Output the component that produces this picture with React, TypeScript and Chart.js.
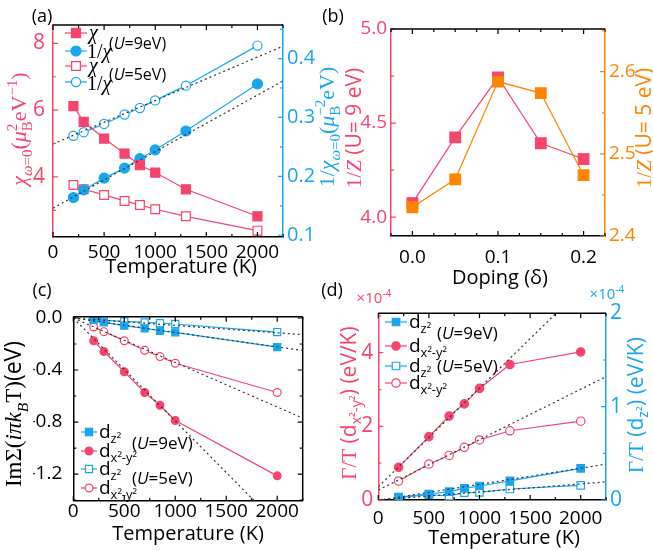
import React, { useEffect, useRef } from 'react';
import { Chart, registerables } from 'chart.js';
Chart.register(...registerables);

const W = 653, H = 550;
const RED = '#F5456E';
const BLUE = '#1AA6EE';
const ORANGE = '#FF8400';
const SANS = "'Open Sans', 'Noto Sans', sans-serif";
const SERIF = "'Liberation Serif', 'DejaVu Serif', serif";

// ---------- Panel (a) ----------
const tempA = [200, 300, 500, 700, 850, 1000, 1300, 2000];
const chiU9 = [6.12, 5.65, 5.15, 4.7, 4.35, 4.13, 3.63, 2.82];
const invChiU9 = [0.164, 0.177, 0.197, 0.214, 0.23, 0.245, 0.277, 0.357];
const chiU5 = [3.76, 3.63, 3.46, 3.28, 3.16, 3.03, 2.82, 2.39];
const invChiU5 = [0.269, 0.275, 0.289, 0.305, 0.316, 0.329, 0.354, 0.422];
const fitInvChiU9 = [[0, 0.146], [2250, 0.362]];
const fitInvChiU5 = [[0, 0.255], [2250, 0.421]];

// ---------- Panel (b) ----------
const doping = [0, 0.05, 0.1, 0.15, 0.2];
const invZU9 = [4.075, 4.424, 4.743, 4.393, 4.309];
const invZU5 = [2.435, 2.469, 2.588, 2.574, 2.474];

// ---------- Panel (c) ----------
const tempC = [200, 300, 500, 700, 850, 1000, 2000];
const sigZU9 = [-0.015, -0.033, -0.059, -0.08, -0.098, -0.11, -0.224];
const sigXU9 = [-0.175, -0.258, -0.413, -0.573, -0.671, -0.788, -1.214];
const sigZU5 = [-0.01, -0.018, -0.026, -0.034, -0.04, -0.046, -0.108];
const sigXU5 = [-0.069, -0.105, -0.175, -0.248, -0.297, -0.348, -0.573];
const fitSigXU9 = [[0, 0], [2250, -1.782]];
const fitSigXU5 = [[0, 0], [2250, -0.77]];
const fitSigZU9 = [[0, 0], [2250, -0.25]];
const fitSigZU5 = [[0, 0], [2250, -0.128]];

// ---------- Panel (d) ----------
const tempD = [200, 500, 700, 850, 1000, 1300, 2000];
const gamXU9 = [0.887, 1.72, 2.28, 2.61, 3.03, 3.68, 4.02];
const gamXU5 = [0.516, 0.977, 1.21, 1.43, 1.63, 1.88, 2.14];
const gamZU9 = [0.032, 0.064, 0.089, 0.125, 0.15, 0.204, 0.339];
const gamZU5 = [0.025, 0.057, 0.043, 0.079, 0.082, 0.118, 0.157];
const fitGamXU9 = [[0, 0.36], [2250, 6.39]];
const fitGamXU5 = [[0, 0.27], [2250, 3.35]];
const fitGamZU9 = [[0, -0.005], [2250, 0.384]];
const fitGamZU5 = [[0, 0], [2250, 0.194]];

// ---------- helpers ----------
type Seg = { t: string; f?: string; it?: boolean; s?: number; dy?: number; adv?: boolean };
const SUB = { s: 0.68, dy: 0.28 };
const SUP = { s: 0.68, dy: -0.42 };

function rich(ctx: CanvasRenderingContext2D, segs: Seg[], x: number, y: number, size: number, color: string, align: 'center' | 'left' = 'center', rot = 0) {
  ctx.save();
  ctx.translate(x, y);
  if (rot) ctx.rotate(rot);
  ctx.textBaseline = 'alphabetic';
  ctx.textAlign = 'left';
  const items = segs.map((g) => {
    const sz = size * (g.s ?? 1);
    const font = `${g.it ? 'italic ' : ''}${sz}px ${g.f ?? SANS}`;
    ctx.font = font;
    return { g, font, w: ctx.measureText(g.t).width };
  });
  const total = items.reduce((a, it) => a + (it.g.adv === false ? 0 : it.w), 0);
  let cx = align === 'center' ? -total / 2 : 0;
  const base = size * 0.36;
  ctx.fillStyle = color;
  for (const it of items) {
    ctx.font = it.font;
    ctx.fillText(it.g.t, cx, base + (it.g.dy ?? 0) * size);
    if (it.g.adv !== false) cx += it.w;
  }
  ctx.restore();
}

function axis(pos: string, min: number, max: number, step: number, major: number, digits: number, color: string, size: number, pad: number, fs: number) {
  return {
    type: 'linear', position: pos, min, max,
    grid: { display: false, drawTicks: false },
    border: { display: true, color, width: 1.5 },
    ticks: {
      stepSize: step, includeBounds: false, autoSkip: false, maxRotation: 0, minRotation: 0,
      color, padding: pad, font: { family: SANS, size: fs },
      callback: (v: any) => {
        const n = Number(v);
        const k = Math.round(n / major);
        return Math.abs(n - k * major) < step * 1e-3 ? (k * major).toFixed(digits) : '';
      },
    },
    afterFit: (s: any) => {
      if (pos === 'bottom' || pos === 'top') s.height = size; else s.width = size;
      s.paddingLeft = 0; s.paddingRight = 0; s.paddingTop = 0; s.paddingBottom = 0;
    },
  };
}

const pts = (xs: number[], ys: number[]) => xs.map((x, i) => ({ x, y: ys[i] }));
const seg = (pairs: number[][]) => pairs.map(([x, y]) => ({ x, y }));

function ser(data: any[], yAxisID: string, color: string, style: string, filled: boolean, r: number, order = 2) {
  return {
    data, yAxisID, showLine: true, borderColor: color, borderWidth: 1.2,
    backgroundColor: filled ? color : '#fff', pointBackgroundColor: filled ? color : '#fff',
    pointBorderColor: color, pointBorderWidth: 1.2, pointStyle: style, pointRadius: r, pointHoverRadius: r, order,
  };
}
function fitDs(data: any[], yAxisID: string) {
  return { data, yAxisID, showLine: true, borderColor: '#333', borderWidth: 1.2, borderDash: [2, 3], pointRadius: 0, pointHoverRadius: 0, order: 1 };
}

function innerTicks(chart: any, id: string, side: string, color: string) {
  const s = chart.scales[id]; const a = chart.chartArea; const ctx = chart.ctx;
  ctx.save(); ctx.strokeStyle = color; ctx.lineWidth = 1.2; ctx.beginPath();
  for (const t of s.ticks) {
    const p = s.getPixelForValue(t.value);
    const len = t.label ? 5 : 3;
    if (side === 'bottom') { ctx.moveTo(p, a.bottom); ctx.lineTo(p, a.bottom - len); }
    if (side === 'top') { ctx.moveTo(p, a.top); ctx.lineTo(p, a.top + len); }
    if (side === 'left') { ctx.moveTo(a.left, p); ctx.lineTo(a.left + len, p); }
    if (side === 'right') { ctx.moveTo(a.right, p); ctx.lineTo(a.right - len, p); }
  }
  ctx.stroke(); ctx.restore();
}
function edge(chart: any, side: string, color: string) {
  const a = chart.chartArea; const ctx = chart.ctx;
  ctx.save(); ctx.strokeStyle = color; ctx.lineWidth = 1.5; ctx.beginPath();
  if (side === 'top') { ctx.moveTo(a.left, a.top); ctx.lineTo(a.right, a.top); }
  if (side === 'right') { ctx.moveTo(a.right, a.top); ctx.lineTo(a.right, a.bottom); }
  ctx.stroke(); ctx.restore();
}
function marker(ctx: CanvasRenderingContext2D, x: number, y: number, style: string, color: string, filled: boolean, r: number, len: number) {
  ctx.save();
  ctx.strokeStyle = color; ctx.lineWidth = 1.2;
  ctx.beginPath(); ctx.moveTo(x - len / 2, y); ctx.lineTo(x + len / 2, y); ctx.stroke();
  ctx.fillStyle = filled ? color : '#fff';
  ctx.beginPath();
  if (style === 'rect') { const s = r * Math.SQRT1_2; ctx.rect(x - s, y - s, 2 * s, 2 * s); }
  else ctx.arc(x, y, r, 0, Math.PI * 2);
  ctx.fill(); ctx.stroke();
  ctx.restore();
}
function label(ctx: CanvasRenderingContext2D, t: string, x: number, y: number, size: number, color = '#000') {
  rich(ctx, [{ t }], x, y, size, color, 'center');
}

function cfg(datasets: any[], scales: any, padding: any, deco: (c: any) => void) {
  return {
    type: 'scatter',
    data: { datasets },
    options: {
      responsive: false, animation: false, devicePixelRatio: 1, events: [],
      layout: { padding },
      plugins: { legend: { display: false }, tooltip: { enabled: false } },
      scales,
    },
    plugins: [{ id: 'deco', afterDraw: deco }],
  } as any;
}

const UT = (n: string): Seg[] => [{ t: '(' }, { t: 'U', it: true }, { t: `=${n}eV)` }];
const ROT = -Math.PI / 2;

// ---------- chart configs ----------
function panelA() {
  return cfg(
    [
      fitDs(seg(fitInvChiU9), 'y2'),
      fitDs(seg(fitInvChiU5), 'y2'),
      ser(pts(tempA, chiU9), 'y', RED, 'rect', true, 6.4),
      ser(pts(tempA, invChiU9), 'y2', BLUE, 'circle', true, 5),
      ser(pts(tempA, chiU5), 'y', RED, 'rect', false, 6.2),
      ser(pts(tempA, invChiU5), 'y2', BLUE, 'circle', false, 4.6),
    ],
    {
      x: axis('bottom', 0, 2250, 250, 500, 0, '#000', 30, 4, 19),
      y: axis('left', 2.2, 8.55, 1, 2, 0, RED, 40, 8, 21),
      y2: axis('right', 0.097, 0.457, 0.05, 0.1, 1, BLUE, 40, 4, 20),
    },
    { left: 13, top: 25, right: W - 283 - 40, bottom: H - 237 - 30 },
    (chart) => {
      const ctx = chart.ctx;
      innerTicks(chart, 'x', 'bottom', '#000'); innerTicks(chart, 'x', 'top', '#000');
      innerTicks(chart, 'y', 'left', RED); innerTicks(chart, 'y2', 'right', BLUE);
      edge(chart, 'top', '#000');
      label(ctx, '(a)', 42, 16, 18);
      label(ctx, 'Temperature (K)', 181, 266, 20);
      rich(ctx, [
        { t: 'χ', f: SERIF, it: true }, { t: 'ω', f: SERIF, it: true, ...SUB }, { t: '=0', f: SERIF, ...SUB },
        { t: '(', f: SERIF }, { t: 'μ', f: SERIF, it: true }, { t: '2', f: SERIF, ...SUP, adv: false }, { t: 'B', f: SERIF, ...SUB },
        { t: 'eV', f: SERIF }, { t: '−1', f: SERIF, ...SUP }, { t: ')', f: SERIF },
      ], 18, 129, 22, RED, 'center', ROT);
      rich(ctx, [
        { t: '1/', f: SERIF }, { t: 'χ', f: SERIF, it: true }, { t: 'ω', f: SERIF, it: true, ...SUB }, { t: '=0', f: SERIF, ...SUB },
        { t: '(', f: SERIF }, { t: 'μ', f: SERIF, it: true }, { t: 'B', f: SERIF, ...SUB, adv: false }, { t: '−2', f: SERIF, ...SUP },
        { t: 'eV', f: SERIF }, { t: ')', f: SERIF },
      ], 326, 127, 22, BLUE, 'center', ROT);
      // legend
      marker(ctx, 76, 33, 'rect', RED, true, 6.4, 22);
      marker(ctx, 76, 51, 'circle', BLUE, true, 5, 22);
      marker(ctx, 76, 66, 'rect', RED, false, 6.2, 22);
      marker(ctx, 76, 82, 'circle', BLUE, false, 4.6, 22);
      rich(ctx, [{ t: 'χ', f: SERIF, it: true }], 89, 32, 20, '#000', 'left');
      rich(ctx, [{ t: '1/', f: SERIF }, { t: 'χ', f: SERIF, it: true }], 87, 51, 20, '#000', 'left');
      rich(ctx, UT('9'), 109, 43, 16, '#000', 'left');
      rich(ctx, [{ t: 'χ', f: SERIF, it: true }], 89, 65, 20, '#000', 'left');
      rich(ctx, [{ t: '1/', f: SERIF }, { t: 'χ', f: SERIF, it: true }], 87, 83, 20, '#000', 'left');
      rich(ctx, UT('5'), 109, 74, 16, '#000', 'left');
    },
  );
}

function panelB() {
  return cfg(
    [
      ser(pts(doping, invZU5), 'y2', ORANGE, 'rect', true, 7.5, 1),
      ser(pts(doping, invZU9), 'y', RED, 'rect', true, 7.5, 2),
    ],
    {
      x: axis('bottom', -0.025, 0.225, 0.025, 0.1, 1, '#000', 30, 10, 19),
      y: axis('left', 3.9, 5.0, 0.25, 0.5, 1, RED, 40, 4, 19),
      y2: axis('right', 2.4, 2.652, 0.05, 0.1, 1, ORANGE, 45, 4, 19),
    },
    { left: 391 - 40, top: 29, right: W - 605 - 45, bottom: H - 236 - 30 },
    (chart) => {
      const ctx = chart.ctx;
      innerTicks(chart, 'x', 'bottom', '#000'); innerTicks(chart, 'x', 'top', '#000');
      innerTicks(chart, 'y', 'left', RED); innerTicks(chart, 'y2', 'right', ORANGE);
      edge(chart, 'top', '#000');
      label(ctx, '(b)', 333, 16, 18);
      rich(ctx, [{ t: 'Doping (δ)' }], 500, 277, 20, '#000');
      rich(ctx, [{ t: '1/', f: SERIF }, { t: 'Z', f: SERIF, it: true }, { t: ' (U= 9 eV)' }], 353, 128, 21, RED, 'center', ROT);
      rich(ctx, [{ t: '1/', f: SERIF }, { t: 'Z', f: SERIF, it: true }, { t: ' (U= 5 eV)' }], 643, 128, 21, ORANGE, 'center', ROT);
    },
  );
}

function panelC() {
  return cfg(
    [
      fitDs(seg(fitSigXU9), 'y'), fitDs(seg(fitSigXU5), 'y'), fitDs(seg(fitSigZU9), 'y'), fitDs(seg(fitSigZU5), 'y'),
      ser(pts(tempC, sigZU9), 'y', BLUE, 'rect', true, 5),
      ser(pts(tempC, sigXU9), 'y', RED, 'circle', true, 3.9),
      ser(pts(tempC, sigZU5), 'y', BLUE, 'rect', false, 5),
      ser(pts(tempC, sigXU5), 'y', RED, 'circle', false, 3.9),
    ],
    {
      x: axis('bottom', 0, 2250, 250, 500, 0, '#000', 30, -1, 19),
      y: axis('left', -1.405, 0.01, 0.2, 0.4, 1, '#000', 40, 11, 19),
    },
    { left: 73.3 - 40, top: 316.7, right: W - 302.7, bottom: H - 500.7 - 30 },
    (chart) => {
      const ctx = chart.ctx;
      innerTicks(chart, 'x', 'bottom', '#000'); innerTicks(chart, 'x', 'top', '#000');
      innerTicks(chart, 'y', 'left', '#000'); innerTicks(chart, 'y', 'right', '#000');
      edge(chart, 'top', '#000'); edge(chart, 'right', '#000');
      label(ctx, '(c)', 42, 290, 18);
      label(ctx, 'Temperature (K)', 188, 533, 20);
      rich(ctx, [
        { t: 'ImΣ(', f: SERIF }, { t: 'iπk', f: SERIF, it: true }, { t: 'B', f: SERIF, it: true, ...SUB },
        { t: 'T)', f: SERIF }, { t: '(eV)' },
      ], 13, 414, 23, '#000', 'center', ROT);
      marker(ctx, 89, 432, 'rect', BLUE, true, 5, 16);
      marker(ctx, 89, 451, 'circle', RED, true, 3.9, 16);
      marker(ctx, 89, 469, 'rect', BLUE, false, 5, 16);
      marker(ctx, 89, 488, 'circle', RED, false, 3.9, 16);
      rich(ctx, [{ t: 'd' }, { t: 'z²', ...SUB }], 99, 431, 19, '#000', 'left');
      rich(ctx, [{ t: 'd' }, { t: 'x²-y²', ...SUB }], 99, 450, 19, '#000', 'left');
      rich(ctx, [{ t: 'd' }, { t: 'z²', ...SUB }], 99, 468, 19, '#000', 'left');
      rich(ctx, [{ t: 'd' }, { t: 'x²-y²', ...SUB }], 99, 487, 19, '#000', 'left');
      rich(ctx, UT('9'), 132, 443, 17, '#000', 'left');
      rich(ctx, UT('5'), 132, 478, 17, '#000', 'left');
    },
  );
}

function panelD() {
  return cfg(
    [
      fitDs(seg(fitGamXU9), 'y'), fitDs(seg(fitGamXU5), 'y'), fitDs(seg(fitGamZU9), 'y2'), fitDs(seg(fitGamZU5), 'y2'),
      ser(pts(tempD, gamZU9), 'y2', BLUE, 'rect', true, 5.3),
      ser(pts(tempD, gamXU9), 'y', RED, 'circle', true, 4.2),
      ser(pts(tempD, gamZU5), 'y2', BLUE, 'rect', false, 5.3),
      ser(pts(tempD, gamXU5), 'y', RED, 'circle', false, 4.2),
    ],
    {
      x: axis('bottom', 0, 2250, 250, 500, 0, '#000', 30, 7, 19),
      y: axis('left', 0, 5.07, 1, 2, 0, RED, 40, 5, 21),
      y2: axis('right', 0, 2, 0.5, 1, 0, BLUE, 40, 4, 21),
    },
    { left: 378.3 - 40, top: 313.3, right: W - 606 - 40, bottom: H - 500 - 30 },
    (chart) => {
      const ctx = chart.ctx;
      innerTicks(chart, 'x', 'bottom', '#000'); innerTicks(chart, 'x', 'top', '#000');
      innerTicks(chart, 'y', 'left', RED); innerTicks(chart, 'y2', 'right', BLUE);
      edge(chart, 'top', '#000');
      label(ctx, '(d)', 332, 290, 18);
      label(ctx, 'Temperature (K)', 504, 537, 20);
      rich(ctx, [{ t: '×10' }, { t: '-4', ...SUP }], 374, 298, 15, RED);
      rich(ctx, [{ t: '×10' }, { t: '-4', ...SUP }], 607, 294, 15, BLUE);
      rich(ctx, [{ t: 'Γ/T', f: SERIF }, { t: ' (d' }, { t: 'x²-y²', ...SUB }, { t: ') (eV/K)' }], 348, 403, 21, RED, 'center', ROT);
      rich(ctx, [{ t: 'Γ/T', f: SERIF }, { t: ' (d' }, { t: 'z²', ...SUB }, { t: ') (eV/K)' }], 635, 405, 21, BLUE, 'center', ROT);
      marker(ctx, 396, 322, 'rect', BLUE, true, 5.3, 22);
      marker(ctx, 396, 346, 'circle', RED, true, 4.2, 22);
      marker(ctx, 396, 366, 'rect', BLUE, false, 5.3, 22);
      marker(ctx, 396, 383, 'circle', RED, false, 4.2, 22);
      rich(ctx, [{ t: 'd' }, { t: 'z²', ...SUB }], 409, 321, 19, '#000', 'left');
      rich(ctx, [{ t: 'd' }, { t: 'x²-y²', ...SUB }], 409, 345, 19, '#000', 'left');
      rich(ctx, [{ t: 'd' }, { t: 'z²', ...SUB }], 409, 365, 19, '#000', 'left');
      rich(ctx, [{ t: 'd' }, { t: 'x²-y²', ...SUB }], 409, 382, 19, '#000', 'left');
      rich(ctx, UT('9'), 437, 333, 17, '#000', 'left');
      rich(ctx, UT('5'), 437, 366, 17, '#000', 'left');
    },
  );
}

export default function App() {
  const r1 = useRef<HTMLCanvasElement>(null);
  const r2 = useRef<HTMLCanvasElement>(null);
  const r3 = useRef<HTMLCanvasElement>(null);
  const r4 = useRef<HTMLCanvasElement>(null);
  useEffect(() => {
    const builders = [panelA, panelB, panelC, panelD];
    const refs = [r1, r2, r3, r4];
    const charts = builders.map((b, i) => new Chart(refs[i].current as HTMLCanvasElement, b()));
    return () => charts.forEach((c) => c.destroy());
  }, []);
  const st: React.CSSProperties = { position: 'absolute', left: 0, top: 0 };
  return (
    <div style={{ position: 'fixed', left: 0, top: 0, width: W, height: H, background: '#fff' }}>
      <canvas ref={r1} width={W} height={H} style={st} />
      <canvas ref={r2} width={W} height={H} style={st} />
      <canvas ref={r3} width={W} height={H} style={st} />
      <canvas ref={r4} width={W} height={H} style={st} />
    </div>
  );
}
